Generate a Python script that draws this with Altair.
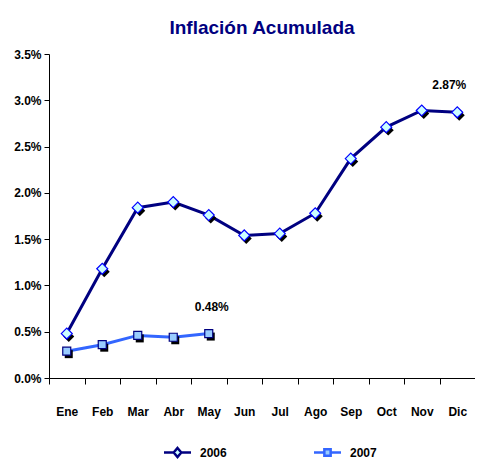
import altair as alt
import pandas as pd

months = ["Ene", "Feb", "Mar", "Abr", "May", "Jun", "Jul", "Ago", "Sep", "Oct", "Nov", "Dic"]
v2006 = [0.48, 1.18, 1.84, 1.90, 1.76, 1.54, 1.56, 1.78, 2.37, 2.71, 2.89, 2.87]
v2007 = [0.29, 0.36, 0.46, 0.44, 0.48]
y_ticks = [0, 0.005, 0.01, 0.015, 0.02, 0.025, 0.03, 0.035]

FONT = "Liberation Sans Narrow, Arial Narrow, Liberation Sans, Arial"

x_enc = alt.X("month:N", sort=months,
              scale=alt.Scale(domain=months, paddingInner=0, paddingOuter=0),
              axis=alt.Axis(title=None, labelAngle=0, tickBand="extent", tickSize=6,
                            labelPadding=22, labelFontSize=12, labelFontWeight="bold",
                            labelColor="black", domainColor="black", tickColor="black",
                            labelFont=FONT, grid=False))
y_enc = alt.Y("value:Q", scale=alt.Scale(domain=[0, 0.035], nice=False),
              axis=alt.Axis(title=None, values=y_ticks, format=".1%", tickSize=5,
                            labelPadding=3, labelFontSize=12, labelFontWeight="bold",
                            labelColor="black", domainColor="black", tickColor="black",
                            labelFont=FONT, grid=False))

DIAMOND_LEG = "M-1.5,0L-0.45,0M0.45,0L1.5,0M0,-0.5L0.42,0L0,0.5L-0.42,0Z"
SQUARE_LEG = "M-1.5,0L-0.35,0M0.35,0L1.5,0M-0.35,-0.35L0.35,-0.35L0.35,0.35L-0.35,0.35Z"


def series_layer(name, vals, line_color, fill, stroke, shape, size, leg_path, leg_x, label_dx):
    d = pd.DataFrame({"month": months[:len(vals)], "value": [v / 100 for v in vals],
                      "series": name})
    base = alt.Chart(d).encode(x=x_enc, y=y_enc)
    line = base.mark_line(strokeWidth=3).encode(
        color=alt.Color("series:N", scale=alt.Scale(domain=[name], range=[line_color]),
                        legend=alt.Legend(title=None, orient="none", legendX=leg_x, legendY=388,
                                          symbolType=leg_path, symbolSize=324,
                                          symbolStrokeWidth=2.5, symbolFillColor=fill,
                                          symbolStrokeColor=line_color,
                                          labelFontSize=12, labelFontWeight="bold",
                                          labelFont=FONT, labelColor="black", labelOffset=12)))
    shadow = base.mark_point(shape=shape, filled=True, color="black", size=size,
                             xOffset=2, yOffset=3, opacity=1)
    pts = base.mark_point(shape=shape, filled=True, fill=fill, stroke=stroke,
                          strokeWidth=1.2, size=size, opacity=1)
    last = d.tail(1)
    lbl = alt.Chart(last).mark_text(dy=-27, dx=label_dx, fontSize=12, fontWeight="bold",
                                    font=FONT, color="black").encode(
        x=x_enc, y=y_enc, text=alt.Text("value:Q", format=".2%"))
    return alt.layer(line, shadow, pts, lbl)


l2006 = series_layer("2006", v2006, "#000080", "#CCFFFF", "#0000FF", "diamond", 120,
                     DIAMOND_LEG, 118, -8)
l2007 = series_layer("2007", v2007, "#3366FF", "#99CCFF", "#000080", "square", 64,
                     SQUARE_LEG, 268, 3)

chart = alt.layer(l2006, l2007).resolve_scale(color="independent").properties(
    width=426, height=324,
    title=alt.TitleParams("Inflación Acumulada", fontSize=19, font=FONT, fontWeight="bold",
                          color="#000080", anchor="middle", offset=10),
    autosize=alt.AutoSizeParams(type="none"),
    padding={"left": 41, "top": 46, "right": 0, "bottom": 82},
).configure_view(stroke=None)

chart.save("out.html", embed_options={"renderer": "svg", "actions": False})
